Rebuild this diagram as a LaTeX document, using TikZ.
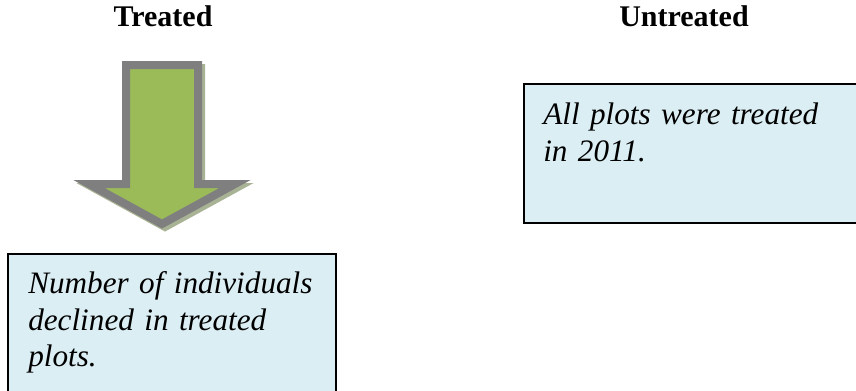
\documentclass[tikz,border=0pt]{standalone}
\usepackage{fontspec}
\setmainfont{Liberation Serif}
\usetikzlibrary{positioning}

\definecolor{arrowgreen}{RGB}{155,187,89}
\definecolor{arrowgray}{RGB}{127,127,127}
\definecolor{shadowgreen}{RGB}{168,178,148}
\definecolor{boxblue}{RGB}{219,238,244}

\tikzset{
heading/.style={font=\fontsize{22.5}{26}\selectfont\bfseries, inner sep=0pt, anchor=base},
notebox/.style={draw=black, line width=1.5pt, fill=boxblue, inner sep=0pt, anchor=north west},
notetext/.style={font=\fontsize{23.4}{27.6}\selectfont\itshape, align=left, inner sep=0pt, anchor=north west, text width=240pt},
downarrow/.style={line width=6pt, line join=miter}
}

\begin{document}
\begin{tikzpicture}[x=0.75pt,y=0.75pt,yscale=-1,xscale=1]
\useasboundingbox (0,0) rectangle (856,390);
\clip (0,0) rectangle (856,390);

% Headings
\node[heading] (treated) at (163,26) {Treated};
\node[heading] (untreated) at (684,26) {Untreated};

%Shape: Down Arrow (shadow)
\draw [downarrow, draw=shadowgreen, fill=shadowgreen, shift={(3,3)}] (126,65) -- (198,65) -- (198,184) -- (235,184) -- (162,224) -- (89,184) -- (126,184) -- cycle ;
%Shape: Down Arrow
\draw [downarrow, draw=arrowgray, fill=arrowgreen] (126,65) -- (198,65) -- (198,184) -- (235,184) -- (162,224) -- (89,184) -- (126,184) -- cycle ;

%Boxes
\node[notebox, minimum width=246pt, minimum height=120pt] (treatedbox) at (7,253) {};
\node[notebox, minimum width=262pt, minimum height=104pt] (untreatedbox) at (523,83) {};

% Text Node
\node[notetext] (treatedtext) at (28,271) {Number of individuals\\declined in treated\\plots.};
% Text Node
\node[notetext] (untreatedtext) at (543,103) {All plots were treated\\in 2011.};

\end{tikzpicture}
\end{document}
